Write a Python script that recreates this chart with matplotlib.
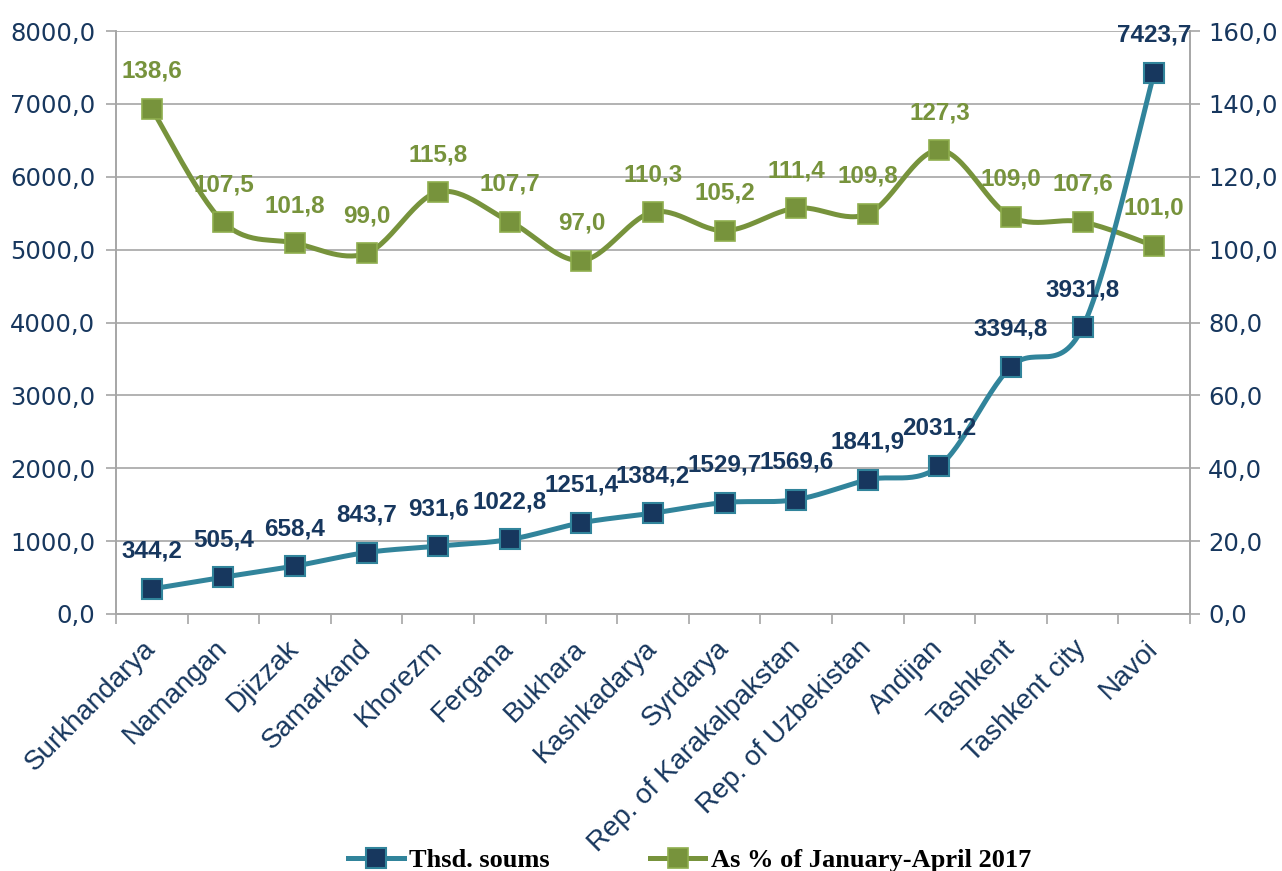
import numpy as np
import matplotlib
matplotlib.use("Agg")
import matplotlib.pyplot as plt
from matplotlib.ticker import FuncFormatter, FixedLocator
from matplotlib.lines import Line2D

categories = ["Surkhandarya", "Namangan", "Djizzak", "Samarkand", "Khorezm", "Fergana",
              "Bukhara", "Kashkadarya", "Syrdarya", "Rep. of Karakalpakstan",
              "Rep. of Uzbekistan", "Andijan", "Tashkent", "Tashkent city", "Navoi"]
thsd_soums = [344.2, 505.4, 658.4, 843.7, 931.6, 1022.8, 1251.4, 1384.2, 1529.7, 1569.6,
              1841.9, 2031.2, 3394.8, 3931.8, 7423.7]
pct_2017 = [138.6, 107.5, 101.8, 99.0, 115.8, 107.7, 97.0, 110.3, 105.2, 111.4,
            109.8, 127.3, 109.0, 107.6, 101.0]
series_names = ["Thsd. soums", "As % of January-April 2017"]

BLUE_LINE = "#31849B"
BLUE_MARK = "#17375E"
GREEN = "#77933C"
GREEN_EDGE = "#8FAE4E"
TXT = "#17375E"
GRID = "#A6A6A6"

def smooth(xs, ys, n=30):
    # Catmull-Rom / Bezier (Excel-style smoothed line)
    xs = np.asarray(xs, float); ys = np.asarray(ys, float)
    P = np.column_stack([xs, ys])
    out = []
    for i in range(len(P) - 1):
        p0 = P[i - 1] if i > 0 else P[i]
        p1 = P[i]; p2 = P[i + 1]
        p3 = P[i + 2] if i + 2 < len(P) else P[i + 1]
        c1 = p1 + (p2 - p0) / 6.0
        c2 = p2 - (p3 - p1) / 6.0
        t = np.linspace(0, 1, n)[:, None]
        seg = (1 - t) ** 3 * p1 + 3 * (1 - t) ** 2 * t * c1 + 3 * (1 - t) * t ** 2 * c2 + t ** 3 * p2
        out.append(seg if i == 0 else seg[1:])
    s = np.vstack(out)
    return s[:, 0], s[:, 1]

plt.rcParams['font.family'] = ['Liberation Sans', 'DejaVu Sans']

fig = plt.figure(figsize=(12.82, 8.71), dpi=100)
ax = fig.add_axes([116/1282, 1 - 614/871, (1190 - 116)/1282, (614 - 31)/871])
ax2 = ax.twinx()

x = np.arange(len(categories))
MS = 14
LW = 3.6
LBL = 17.5

# green on secondary axis
gx, gy = smooth(x, pct_2017)
ax2.plot(gx, gy, color=GREEN, lw=LW, solid_capstyle='round', zorder=3)
ax2.plot(x, pct_2017, ls='none', marker='s', ms=MS, mfc=GREEN, mec=GREEN_EDGE, mew=1.2, zorder=4)
for xi, v in zip(x, pct_2017):
    ax2.annotate(f"{v:.1f}".replace('.', ','), (xi, v), xytext=(0, 27), textcoords='offset points',
                 ha='center', va='center', fontsize=LBL, fontweight='bold', color=GREEN, zorder=6)

# blue on primary axis, drawn above
ax.set_zorder(ax2.get_zorder() + 1)
ax.patch.set_visible(False)
bx, by = smooth(x, thsd_soums)
ax.plot(bx, by, color=BLUE_LINE, lw=LW, solid_capstyle='round', zorder=3)
ax.plot(x, thsd_soums, ls='none', marker='s', ms=MS, mfc=BLUE_MARK, mec=BLUE_LINE, mew=1.5, zorder=4)
for xi, v in zip(x, thsd_soums):
    ax.annotate(f"{v:.1f}".replace('.', ','), (xi, v), xytext=(0, 27), textcoords='offset points',
                ha='center', va='center', fontsize=LBL, fontweight='bold', color=BLUE_MARK, zorder=6)

ax.set_xlim(-0.5, len(categories) - 0.5)
ax.set_ylim(0, 8000)
ax2.set_ylim(0, 160)
ax.set_yticks(np.arange(0, 8001, 1000))
ax2.set_yticks(np.arange(0, 161, 20))
fmt = FuncFormatter(lambda v, p: f"{v:.1f}".replace('.', ','))
ax.yaxis.set_major_formatter(fmt)
ax2.yaxis.set_major_formatter(fmt)

ax2.grid(axis='y', color=GRID, lw=1.2, zorder=0)
ax2.set_axisbelow(True)

ax.set_xticks(x)
ax.set_xticklabels(categories, rotation=45, ha='right', va='center', rotation_mode='anchor')
ax.xaxis.set_minor_locator(FixedLocator(np.arange(-0.5, len(categories), 1.0)))
ax.tick_params(axis='x', which='major', length=0, pad=22, labelsize=20, labelcolor=TXT)
ax.tick_params(axis='x', which='minor', length=7, width=1.2, color=GRID, direction='out')
ax.tick_params(axis='y', length=7, width=1.2, color=GRID, labelsize=17.5, labelcolor=TXT, pad=8)
ax2.tick_params(axis='y', length=7, width=1.2, color=GRID, labelsize=17.5, labelcolor=TXT, pad=6)
for lab in ax.get_yticklabels() + ax2.get_yticklabels():
    lab.set_fontfamily(['DejaVu Sans'])

for a in (ax, ax2):
    for s in a.spines.values():
        s.set_color(GRID)
        s.set_linewidth(1.2)
    a.spines['top'].set_visible(False)

handles = [
    Line2D([], [], color=BLUE_LINE, lw=LW, marker='s', ms=MS, mfc=BLUE_MARK, mec=BLUE_LINE, mew=1.5),
    Line2D([], [], color=GREEN, lw=LW, marker='s', ms=MS, mfc=GREEN, mec=GREEN_EDGE, mew=1.2),
]
fig.legend(handles, series_names, loc='center', bbox_to_anchor=(0.538, 0.012), ncol=2,
           frameon=False, handlelength=2.1, columnspacing=3.8, handletextpad=0.2,
           prop={'family': 'Liberation Serif', 'weight': 'bold', 'size': 19})

fig.savefig("out.png", dpi=100)
